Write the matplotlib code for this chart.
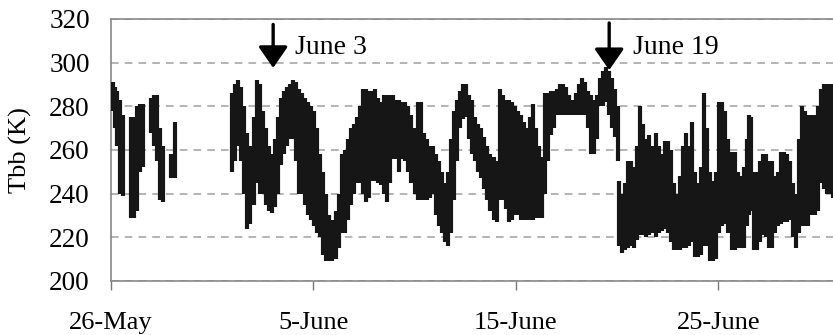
import matplotlib
matplotlib.use("Agg")
import matplotlib.pyplot as plt

# days after 26 May, lowest and highest Tbb (K) of each vertical run of samples
seg_day = [
  0.0, 0.1, 0.2, 0.3, 0.45, 0.6,
  1.0, 1.15, 1.3, 1.45, 1.6,
  2.0, 2.15, 2.3, 2.45, 2.6,
  3.0, 3.15,
  6.0, 6.15, 6.3, 6.45, 6.6, 6.75, 6.9, 7.05, 7.2, 7.35, 7.5, 7.65, 7.8, 7.95,
  8.1, 8.25, 8.4, 8.55, 8.7, 8.85, 9.0, 9.15, 9.3, 9.45, 9.6, 9.75, 9.9,
  10.05, 10.2, 10.35, 10.5, 10.65, 10.8, 10.95, 11.1, 11.25, 11.4, 11.55, 11.7, 11.85,
  12.0, 12.15, 12.3, 12.45, 12.6, 12.75, 12.9, 13.05, 13.2, 13.35, 13.5, 13.65, 13.8, 13.95,
  14.1, 14.25, 14.4, 14.55, 14.7, 14.85, 15.0, 15.15, 15.3, 15.45, 15.6, 15.75, 15.9,
  16.05, 16.2, 16.35, 16.5, 16.65, 16.8, 16.95, 17.1, 17.25, 17.4, 17.55, 17.7, 17.85,
  18.0, 18.15, 18.3, 18.45, 18.6, 18.75, 18.9, 19.05, 19.2, 19.35, 19.5, 19.65, 19.8, 19.95,
  20.1, 20.25, 20.4, 20.55, 20.7, 20.85, 21.0, 21.15, 21.3, 21.45, 21.6, 21.75, 21.9,
  22.05, 22.2, 22.35, 22.5, 22.65, 22.8, 22.95, 23.1, 23.25, 23.4, 23.55, 23.7, 23.85,
  24.0, 24.15, 24.3, 24.45, 24.6, 24.75, 24.9, 25.05, 25.1, 25.25, 25.4,
  25.55, 25.7, 25.85, 26.0, 26.15, 26.3, 26.45, 26.6, 26.75, 26.9, 27.05, 27.2, 27.35,
  27.5, 27.65, 27.8, 27.95, 28.1, 28.25, 28.4, 28.55, 28.7, 28.85, 29.0, 29.15, 29.3,
  29.45, 29.6, 29.75, 29.9, 30.05, 30.2, 30.35, 30.5, 30.65, 30.8, 30.95, 31.1, 31.25,
  31.4, 31.5, 31.6, 31.75, 31.9, 32.05, 32.2, 32.35, 32.5, 32.65, 32.8, 32.95, 33.1,
  33.25, 33.4, 33.55, 33.7, 33.85, 34.0, 34.15, 34.3, 34.45, 34.6, 34.75, 34.9,
  35.05, 35.2, 35.35, 35.5, 35.65,
]
seg_low = [
  279, 278, 270, 262, 240, 239,
  229, 229, 232, 250, 252,
  268, 262, 255, 237, 236,
  247, 247,
  250, 255, 262, 255, 240, 224, 226, 235, 245, 240, 240, 235, 232, 231,
  234, 240, 253, 258, 262, 265, 265, 255, 240, 240, 235, 230, 228,
  225, 222, 220, 212, 209, 209, 209, 210, 215, 222, 222, 228, 235,
  240, 245, 245, 240, 236, 238, 246, 246, 245, 244, 240, 236, 245, 256,
  256, 250, 256, 255, 250, 245, 240, 237, 237, 237, 237, 238, 240,
  230, 225, 222, 218, 216, 222, 237, 255, 270, 274, 275, 265, 258,
  255, 250, 247, 242, 237, 232, 228, 227, 237, 237, 233, 227, 228, 230,
  230, 228, 228, 228, 228, 228, 229, 229, 229, 240, 255, 267, 270,
  276, 276, 276, 276, 276, 276, 276, 276, 276, 276, 270, 258, 258,
  265, 280, 280, 282, 276, 270, 266, 255, 216, 213, 214,
  215, 216, 215, 219, 221, 221, 220, 221, 222, 220, 222, 223, 224,
  222, 218, 214, 214, 214, 215, 215, 216, 218, 211, 211, 212, 216,
  216, 209, 209, 210, 222, 225, 226, 222, 214, 214, 215, 215, 215,
  225, 230, 232, 214, 214, 218, 221, 220, 215, 215, 222, 225, 226,
  227, 227, 228, 220, 215, 222, 225, 225, 225, 230, 230, 232,
  245, 242, 240, 240, 238,
]
seg_high = [
  290, 291, 289, 287, 283, 276,
  275, 275, 280, 281, 281,
  284, 285, 285, 270, 262,
  258, 273,
  286, 290, 292, 289, 280, 268, 262, 275, 292, 290, 278, 270, 262, 258,
  265, 275, 284, 287, 289, 290, 292, 291, 288, 286, 284, 282, 280,
  278, 270, 258, 250, 240, 230, 228, 232, 240, 258, 260, 265, 270,
  272, 275, 280, 288, 288, 287, 287, 288, 284, 282, 285, 285, 285, 285,
  283, 283, 282, 282, 280, 276, 270, 282, 282, 268, 265, 262, 262,
  258, 255, 250, 245, 250, 265, 278, 283, 287, 290, 290, 285, 283,
  275, 272, 270, 266, 262, 258, 257, 255, 288, 285, 283, 283, 282, 280,
  278, 276, 273, 270, 275, 281, 270, 262, 257, 286, 286, 287, 287,
  288, 290, 290, 289, 285, 283, 286, 290, 293, 291, 287, 285, 283,
  285, 293, 296, 298, 296, 293, 288, 280, 246, 240, 245,
  255, 255, 252, 262, 280, 272, 265, 267, 262, 268, 262, 258, 264,
  264, 260, 245, 240, 248, 262, 268, 262, 273, 250, 245, 252, 286,
  270, 250, 246, 250, 282, 282, 278, 265, 259, 259, 250, 248, 252,
  265, 276, 275, 250, 250, 255, 258, 258, 255, 255, 248, 250, 259,
  259, 258, 255, 245, 240, 265, 280, 278, 276, 276, 276, 280,
  288, 290, 290, 290, 290,
]

arrow_day = [8.02, 24.61]
arrow_top = [317.5, 318.2]
arrow_tip = [297.6, 296.6]
event_labels = ["June 3", "June 19"]
label_day = [9.1, 25.8]
label_val = [307.0, 307.0]

xtick_days = [0, 10, 20, 30]
xtick_labels = ["26-May", "5-June", "15-June", "25-June"]
ytick_vals = [200, 220, 240, 260, 280, 300, 320]

plt.rcParams["font.family"] = ["Liberation Serif", "DejaVu Serif"]

fig = plt.figure(figsize=(8.33, 3.35), dpi=100)
ax = fig.add_axes([0.1329, 0.1612, 0.8671, 0.7821])

ax.vlines(seg_day, seg_low, seg_high, colors="#161616", linewidth=3.0, zorder=3)

for d, top, tip in zip(arrow_day, arrow_top, arrow_tip):
  ax.annotate("", xy=(d, tip), xytext=(d, top),
              arrowprops=dict(arrowstyle="-|>,head_length=1.3,head_width=0.9",
                              lw=2.4, color="black", shrinkA=0, shrinkB=0,
                              mutation_scale=10), zorder=4)
for d, v, s in zip(label_day, label_val, event_labels):
  ax.text(d, v, s, fontsize=20, va="center", ha="left", zorder=4)

ax.set_xlim(0, 35.66)
ax.set_ylim(200, 320)
ax.set_yticks(ytick_vals)
ax.set_xticks(xtick_days)
ax.set_xticklabels(xtick_labels)
ax.tick_params(axis="y", length=0, pad=15, labelsize=19.5)
ax.tick_params(axis="x", length=6.5, width=1, color="#777777", direction="out",
               pad=16, labelsize=19)
ax.set_ylabel("Tbb (K)", fontsize=19, labelpad=12)

ax.grid(axis="y", color="#a0a0a0", linestyle=(0, (5, 4)), linewidth=1.1)
ax.set_axisbelow(True)
for side in ["top", "left", "bottom"]:
  ax.spines[side].set_color("#888888")
  ax.spines[side].set_linewidth(1.2)
ax.spines["right"].set_visible(False)

fig.savefig("out.png", dpi=100)
